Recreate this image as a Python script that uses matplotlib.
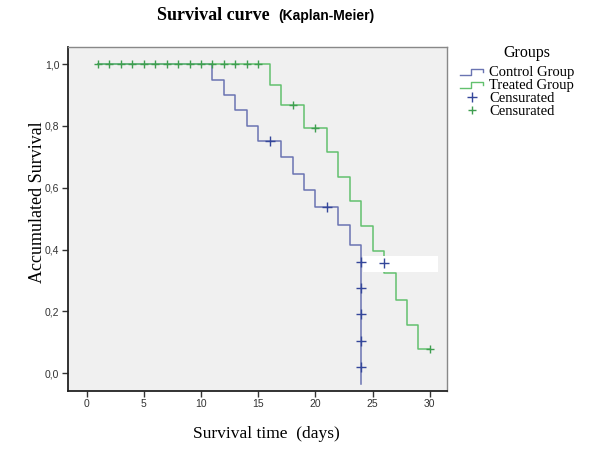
import matplotlib
matplotlib.use("Agg")
import matplotlib.pyplot as plt
from matplotlib.lines import Line2D
from matplotlib.patches import Rectangle
from matplotlib.legend_handler import HandlerBase
from matplotlib.ticker import FuncFormatter

# Kaplan-Meier steps (days, survival)
control_t = [1, 11, 12, 13, 14, 15, 17, 18, 19, 20, 22, 23, 24]
control_s = [1.0, 0.95, 0.90, 0.85, 0.80, 0.75, 0.70, 0.643, 0.592, 0.538, 0.479, 0.416, -0.034]
control_cens_t = [16, 21, 24, 24, 24, 24, 24, 26]
control_cens_s = [0.75, 0.538, 0.360, 0.277, 0.193, 0.104, 0.021, 0.357]

treated_t = [1, 16, 17, 19, 21, 22, 23, 24, 25, 26, 27, 28, 29, 30]
treated_s = [1.0, 0.932, 0.867, 0.794, 0.716, 0.635, 0.557, 0.476, 0.396, 0.323, 0.238, 0.157, 0.078, 0.078]
treated_cens_t = [1, 2, 3, 4, 5, 6, 7, 8, 9, 10, 11, 12, 13, 14, 15, 18, 20, 30]
treated_cens_s = [1.0] * 15 + [0.867, 0.794, 0.078]

x_ticks = [0, 5, 10, 15, 20, 25, 30]
y_ticks = [0.0, 0.2, 0.4, 0.6, 0.8, 1.0]

BLUE = '#6a74b2'
BLUE_DK = '#34479a'
GREEN = '#62c16e'
GREEN_DK = '#3f9e50'
SERIF = 'Liberation Serif'
SANS = 'Liberation Sans'


class StepHandler(HandlerBase):
    # little "_|‾|" step icon like SPSS legends
    def create_artists(self, legend, orig, xd, yd, w, h, fontsize, trans):
        xs = [xd, xd + w * 0.45, xd + w * 0.45, xd + w, xd + w]
        ys = [yd + h * 0.15, yd + h * 0.15, yd + h * 0.7, yd + h * 0.7, yd + h * 0.4]
        ln = Line2D(xs, ys, color=orig.get_color(), lw=1.0, transform=trans)
        return [ln]


fig = plt.figure(figsize=(6.0, 4.49), dpi=100)
ax = fig.add_axes([0.113, 0.129, 0.632, 0.766])
ax.set_facecolor('#f0f0f0')

l1, = ax.plot(control_t, control_s, drawstyle='steps-post', color=BLUE, lw=1.1, zorder=2)
l2, = ax.plot(treated_t, treated_s, drawstyle='steps-post', color=GREEN, lw=1.1, zorder=2.2)
# white patch that sits over the curves in the original picture
ax.add_patch(Rectangle((24.2, 0.328), 6.5, 0.051, facecolor='white', edgecolor='none', zorder=2.5))
m1, = ax.plot(control_cens_t, control_cens_s, ls='none', marker='+', ms=6.5, mew=1.0,
              color=BLUE_DK, zorder=3)
m2, = ax.plot(treated_cens_t, treated_cens_s, ls='none', marker='+', ms=6, mew=1.0,
              color=GREEN_DK, zorder=3)

ax.set_xlim(-1.64, 31.5)
ax.set_ylim(-0.058, 1.055)
ax.set_xticks(x_ticks)
ax.set_yticks(y_ticks)
ax.yaxis.set_major_formatter(FuncFormatter(lambda v, p: f'{v:.1f}'.replace('.', ',')))
ax.tick_params(direction='out', length=4, width=1, color='#333333', labelcolor='#333333',
               labelsize=7.5, pad=2)
for lab in ax.get_xticklabels() + ax.get_yticklabels():
    lab.set_fontfamily(SANS)
for side in ['left', 'bottom']:
    ax.spines[side].set_color('#222222')
    ax.spines[side].set_linewidth(1.3)
for side in ['top', 'right']:
    ax.spines[side].set_color('#888888')
    ax.spines[side].set_linewidth(1.0)

ax.set_xlabel('Survival time  (days)', fontfamily=SERIF, fontsize=12.5)
ax.set_ylabel('Accumulated Survival', fontfamily=SERIF, fontsize=13)
ax.xaxis.set_label_coords(0.524, -0.102)
ax.yaxis.set_label_coords(-0.058, 0.549)

fig.text(157 / 600, 1 - 20 / 449, 'Survival curve', fontfamily=SERIF, fontweight='bold',
         fontsize=13, va='baseline', ha='left')
fig.text(278 / 600, 1 - 20 / 449, '(Kaplan-Meier)', fontfamily=SANS, fontweight='bold',
         fontsize=10, va='baseline', ha='left')

fig.text(527 / 600, 1 - 53 / 449, 'Groups', fontfamily=SERIF, fontsize=11.5,
         ha='center', va='center')
leg = fig.legend([l1, l2, m1, m2], ['Control Group', 'Treated Group', 'Censurated', 'Censurated'],
                 handler_map={l1: StepHandler(), l2: StepHandler()},
                 loc='upper left', bbox_to_anchor=(460 / 600, 1 - 66 / 449),
                 frameon=False, handlelength=1.6, handletextpad=0.4,
                 labelspacing=-0.02, borderaxespad=0, borderpad=0,
                 prop={'family': SERIF, 'size': 10.5})

fig.savefig('out.png', dpi=100)
